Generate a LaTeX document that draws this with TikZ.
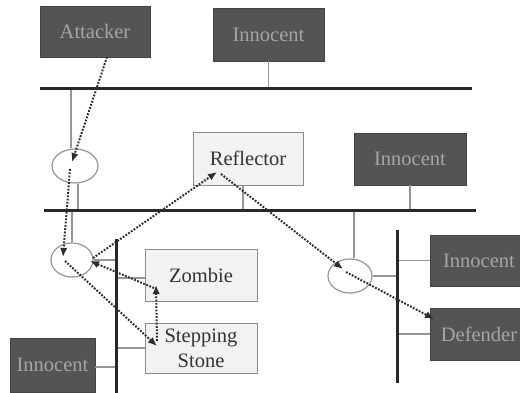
\documentclass[tikz,border=0pt]{standalone}
\usepackage{fontspec}
\setmainfont{Liberation Serif}
\usetikzlibrary{arrows.meta,shapes.geometric}
\definecolor{darkbox}{RGB}{84,84,84}
\definecolor{darktext}{RGB}{165,165,165}
\definecolor{lightbox}{RGB}{242,242,242}
\definecolor{lightedge}{RGB}{140,140,140}
\definecolor{busc}{RGB}{40,40,40}
\definecolor{thinc}{RGB}{150,150,150}
\definecolor{dotc}{RGB}{45,45,45}
\tikzset{
  hostdark/.style={rectangle, fill=darkbox, draw=darkbox!80!black, line width=0.6pt, text=darktext,
    font=\fontsize{20.5}{25}\selectfont, inner sep=0pt, align=center},
  hostlight/.style={rectangle, fill=lightbox, draw=lightedge, line width=1pt, text=black!80,
    font=\fontsize{20.5}{25}\selectfont, inner sep=0pt, align=center},
  router/.style={ellipse, draw=thinc, line width=1.2pt, inner sep=0pt},
  bus/.style={draw=busc, line width=3pt},
  conn/.style={draw=thinc, line width=1.2pt},
  path/.style={draw=dotc, line width=2pt, dash pattern=on 1.8pt off 1.5pt,
    -{Latex[length=9pt,width=7.5pt]}}
}
\begin{document}
\begin{tikzpicture}[x=1pt,y=-1pt]
\useasboundingbox[fill=white] (0,0) rectangle (520,392);
% buses
\coordinate (b1l) at (40,88);  \coordinate (b1r) at (472,88);
\coordinate (b2l) at (44,210); \coordinate (b2r) at (476,210);
\coordinate (lbt) at (116,239); \coordinate (lbb) at (116,396);
\coordinate (rbt) at (397,230); \coordinate (rbb) at (397,383);
% hosts
\node[hostdark, minimum width=110, minimum height=51] (att) at (95,31.5) {Attacker};
\node[hostdark, minimum width=111, minimum height=53] (inn1) at (268.5,34.5) {Innocent};
\node[hostlight, minimum width=110, minimum height=53] (refl) at (248,158.5) {Reflector};
\node[hostdark, minimum width=112, minimum height=52] (inn2) at (410,159) {Innocent};
\node[hostlight, minimum width=112, minimum height=52] (zom) at (201,275) {Zombie};
\node[hostlight, minimum width=112, minimum height=50] (sst) at (201,348) {Stepping\\Stone};
\node[hostdark, minimum width=85, minimum height=54] (inn3) at (52.5,365) {Innocent};
\node[hostdark, minimum width=98, minimum height=51] (inn4) at (479,260.5) {Innocent};
\node[hostdark, minimum width=98, minimum height=52] (def) at (479,334) {Defender};
% routers
\node[router, minimum width=46, minimum height=34] (e1) at (75,166) {};
\node[router, minimum width=42, minimum height=34] (e2) at (72,260) {};
\node[router, minimum width=44, minimum height=34] (e3) at (350,276) {};
% wiring
\draw[conn] (inn1.south) -- (inn1.south |- b1l);
\draw[conn] ([xshift=-4]e1.north) -- ([xshift=-4]e1.north |- b1l);
\draw[conn] ([xshift=3]e1.south) -- ([xshift=3]e1.south |- b2l);
\draw[conn] ([xshift=-5]refl.south) -- ([xshift=-5]refl.south |- b2l);
\draw[conn] (inn2.south) -- (inn2.south |- b2l);
\draw[conn] (e2.north) -- (e2.north |- b2l);
\draw[conn] ([xshift=4]e3.north) -- ([xshift=4]e3.north |- b2l);
\draw[conn] (e2.east) -- (e2.east -| lbt);
\draw[conn] ([yshift=-3]zom.west) -- ([yshift=-3]zom.west -| lbt);
\draw[conn] (sst.west) -- (sst.west -| lbt);
\draw[conn] ([yshift=-2]inn3.east) -- ([yshift=-2]inn3.east -| lbt);
\draw[conn] (e3.east) -- (e3.east -| rbt);
\draw[conn] (inn4.west) -- (inn4.west -| rbt);
\draw[conn] (def.west) -- (def.west -| rbt);
\draw[bus] (b1l) -- (b1r);
\draw[bus] (b2l) -- (b2r);
\draw[bus] (lbt) -- (lbb);
\draw[bus] (rbt) -- (rbb);
% attack path points
\coordinate (pA) at (107,57);
\coordinate (e1in) at (72,162);
\coordinate (e1out) at (70,169);
\coordinate (e2L) at (63,257);
\coordinate (e2Ls) at (65,261);
\coordinate (e2R) at (90,261);
\coordinate (e2Rs) at (93,258);
\coordinate (sstP) at (157,346);
\coordinate (sstS) at (157,341);
\coordinate (zomP) at (156,285);
\coordinate (zomS) at (154,288);
\coordinate (reflP) at (217,172);
\coordinate (reflS) at (221,174);
\coordinate (e3in) at (343,269);
\coordinate (e3out) at (346,272);
\coordinate (defP) at (434,319);
% attack path
\draw[path] (pA) -- (e1in);
\draw[path] (e1out) -- (e2L);
\draw[path] (e2Ls) -- (sstP);
\draw[path] (sstS) -- (zomP);
\draw[path] (zomS) -- (e2R);
\draw[path] (e2Rs) -- (reflP);
\draw[path] (reflS) -- (e3in);
\draw[path] (e3out) -- (defP);
\end{tikzpicture}
\end{document}
